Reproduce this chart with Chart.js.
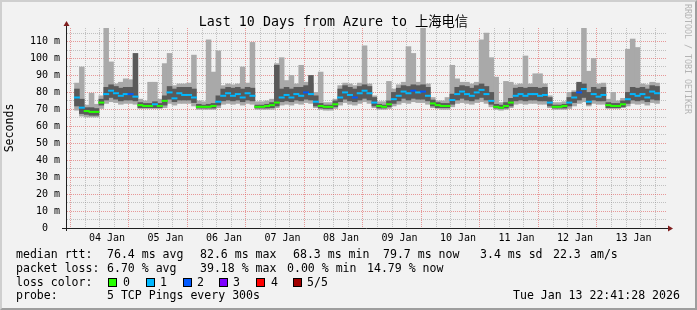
<!DOCTYPE html>
<html>
<head>
<meta charset="utf-8">
<script src="https://cdn.jsdelivr.net/npm/chart.js@4/dist/chart.umd.min.js"></script>
<style>
html,body{margin:0;padding:0;background:#f2f2f2;}
#wrap{position:relative;width:697px;height:310px;overflow:hidden;background:#f2f2f2;}
#c{position:absolute;left:0;top:0;}
#frame{position:absolute;left:0;top:0;width:697px;height:310px;box-sizing:border-box;pointer-events:none;
  border-top:2px solid #cfcfcf;border-left:2px solid #cfcfcf;border-right:2px solid #9e9e9e;border-bottom:2px solid #9e9e9e;}
.t{position:absolute;font-family:"DejaVu Sans Mono",monospace;font-size:11.55px;line-height:14px;white-space:pre;color:#000;}
.box{position:absolute;width:7px;height:7px;border:1px solid #000;}
#credit{position:absolute;left:683px;top:4px;font-family:"DejaVu Sans Mono",monospace;font-size:8.3px;line-height:9px;color:#b4b4b4;writing-mode:vertical-rl;white-space:pre;}
</style>
</head>
<body>
<div id="wrap">
<canvas id="c" width="697" height="310"></canvas>
<div id="legend"></div>
<div id="credit">RRDTOOL / TOBI OETIKER</div>
<div id="frame"></div>
</div>
<script>
// ---------- data (2-hour samples over the last 10 days) ----------
const dayLabels = ['04 Jan','05 Jan','06 Jan','07 Jan','08 Jan','09 Jan','10 Jan','11 Jan','12 Jan','13 Jan'];
const yTickLabels = ['0  ','10 m','20 m','30 m','40 m','50 m','60 m','70 m','80 m','90 m','100 m','110 m'];

const medianRtt = [
 77,71,69,68.5,68.5,74,79,81,79.5,78, 79,79,77.5,72.5,72,72,73,72,75,80,
 76.5,79.5,78.5,78.5,77,71.5,71.5,71.5,72,74.5, 78,79.5,78,79,77,79.5,78,71.5,71.5,72,
 72.5,74,77,78.5,77,79,78,80,79,74.5, 72,71.5,71.5,73,77,80,78.5,77,79.5,81,
 79.5,74,72,71.5,73,76,78,80.5,79.5,81, 80,80.5,78,73.5,72.5,72,72,75.5,79,80.5,
 79,78,80,81.5,79,75,71.5,71,72,74, 78,79,78,79,79,78,78.5,74,71.5,71.5,
 72,74,77,80,82,74.5,79,77.5,78.5,72.5, 72,72,73,76,79,78,79,77,80.5,79.5
];
const lossCount = [
 1,1,0,0,0,0,1,1,1,1, 1,2,1,0,0,0,1,0,0,1,
 1,1,1,1,1,0,0,0,0,1, 1,1,1,1,1,1,1,0,0,0,
 0,0,1,1,1,1,1,2,1,1, 0,0,0,0,1,1,1,2,1,1,
 1,1,0,0,0,1,1,1,1,2, 1,2,1,0,0,0,0,1,1,1,
 1,1,1,1,1,1,0,0,0,0, 1,1,1,1,1,1,1,1,0,0,
 0,1,1,2,1,1,1,1,1,0, 0,0,0,1,1,1,1,1,1,1
];
const smokeMin = [
 69.5,66,65.5,65.5,65.5,70.5,73.5,74.5,74,73, 73.5,73.5,73,70.5,70.5,70.5,70.5,70.5,71,73.5,
 72.5,73.5,73.5,73.5,72,70,70,70,70,71, 73,73.5,73,73.5,72.5,73.5,73,70,70,70,
 70,71,72.5,73,72.5,73.5,73,74,73.5,71, 70,69.5,69.5,70.5,72.5,74,73,72.5,73.5,74.5,
 73.5,71,70,70,70.5,72,73,74,73.5,74.5, 74,74,73,71,70.5,70,70,71.5,73.5,74,
 73.5,73,74,74.5,73.5,71.5,70,69.5,70,71, 73,73.5,73,73.5,73.5,73,73,71,70,70,
 70,70.5,72,73.5,74.5,72,73.5,73,73,70.5, 70.5,70.5,71,72,73.5,73,73.5,72.5,74,73.5
];
const smokeMax = [
 85.5,95,72.5,79.5,73,78,118,98,85,86, 88,87.5,84.5,76,75,86,86,76,97,103,
 84,85,85,85.5,102,75,74.5,111,92,104.5, 84,85,84.5,85,95,85.5,109.5,74.5,74.5,75,
 76,97,100.5,87,90,85,96,86,85,80, 92,74,74,76,84,85.5,85,84,85.5,107.5,
 85,78,74.5,74.5,86.5,82,84.5,86,107,103, 86,118,85,77,75,75,77,96,88,86,
 86,85,86,111,115,100.5,89,74,86.5,86, 84.5,85,101.5,85,91,91,85,78,74,74,
 74.5,80,81,85,118,92.5,100,85,85.5,76, 80,75,76.5,105.5,111.5,106.5,85,84.5,86,85.5
];
const coreLow = [
 72,67.5,67,66.5,66.5,72.5,75.5,77,76,75, 75.5,75.5,75,71,71,71,71,71,72.5,76,
 74.5,75.5,75.5,75.5,74,70.8,70.8,70.8,70.8,72.5, 75,75.5,75,75.5,74.5,75.5,75,70.8,70.8,70.8,
 71,72,74.5,75,74.5,75.5,75,76,75.5,72, 70.8,70.5,70.5,71.5,74.5,76,75,74.5,75.5,76.5,
 75.5,72,70.8,70.8,71.5,73.5,75,76.5,75.5,76.5, 76,76,75,72,71,71,71,73,75.5,76.5,
 75.5,75,76,77,75.5,73,70.8,70.5,70.8,72, 75,75.5,75,75.5,75.5,75,75,72,70.8,70.8,
 70.8,72,74,75.5,77,73,75.5,75,75,71, 71,71,71.5,73.5,75.5,75,75.5,74.5,76,75.5
];
const coreHigh = [
 82,76,71,71,70.5,76,83,84.5,83.5,82.5, 83,83,103,74,73.5,73.5,74.5,73.5,78,83.5,
 82,83,83,83,82,73,72.5,73,73.5,78, 82,83,82.5,83,82,83,82.5,72.5,72.5,73,
 74,96,82,83,82,83,83,84,90,78, 73.5,72.5,72.5,75,82,84,83,82,83.5,84.5,
 83.5,77,73,72.5,75,80,82.5,84,83.5,84.5, 84,84.5,83,75.5,74,73.5,73.5,79,83,84,
 83.5,82.5,84,85,83.5,80,73,72.5,74,76.5, 82.5,83,82.5,83,83,82.5,83,77,72.5,72.5,
 73,77,80,86,85,80,83,82,83,74, 73.5,73.5,75,80,83,82.5,83,82,84,83.5
];
const lossColors = ['#26ff00','#00b8ff','#0059ff','#7e00ff','#ff0000','#a00000'];
const lossLabels = ['0','1','2','3','4','5/5'];

const SAMPLE_HOURS = 2;
const FIRST_MIDNIGHT = 1.309; // hours from graph start (03 Jan 22:41) to 04 Jan 00:00
const SPAN_HOURS = 240;

// ---------- build ----------
const FONT = '"DejaVu Sans Mono", "Noto Sans CJK SC", monospace';
const tAt = i => i * SAMPLE_HOURS + SAMPLE_HOURS / 2;
const lightBand = smokeMin.map((lo, i) => ({x: tAt(i), y: [lo, smokeMax[i]]}));
const darkBand = coreLow.map((lo, i) => ({x: tAt(i), y: [lo, coreHigh[i]]}));
const medianPts = medianRtt.map((v, i) => ({x: tAt(i), y: v}));

const xTicks = [];
for (let t = FIRST_MIDNIGHT; t < SPAN_HOURS; t += 6) xTicks.push({value: t});

const MAJOR = 'rgba(222,79,79,0.55)';
const MINOR = 'rgba(143,143,143,0.5)';

const axesPlugin = {
  id: 'axes',
  afterDatasetsDraw(chart) {
    const {ctx, chartArea: a} = chart;
    ctx.save();
    ctx.lineWidth = 1;
    ctx.strokeStyle = '#1f1f1f';
    ctx.beginPath();
    ctx.moveTo(a.left - 5, a.bottom + 0.5);
    ctx.lineTo(a.right + 4, a.bottom + 0.5);
    ctx.moveTo(a.left - 0.5, a.bottom + 3);
    ctx.lineTo(a.left - 0.5, a.top - 4);
    ctx.stroke();
    ctx.fillStyle = '#801f1f';
    ctx.beginPath();
    ctx.moveTo(a.left - 3.5, a.top - 2);
    ctx.lineTo(a.left + 2.5, a.top - 2);
    ctx.lineTo(a.left - 0.5, a.top - 7);
    ctx.closePath();
    ctx.fill();
    ctx.beginPath();
    ctx.moveTo(a.right + 1, a.bottom - 2.5);
    ctx.lineTo(a.right + 1, a.bottom + 3.5);
    ctx.lineTo(a.right + 6, a.bottom + 0.5);
    ctx.closePath();
    ctx.fill();
    ctx.restore();
  }
};

new Chart(document.getElementById('c'), {
  type: 'bar',
  data: {
    datasets: [
      {type: 'line', data: medianPts, showLine: false, order: 0, pointStyle: 'line', pointRadius: 3,
       pointBorderWidth: 2, pointBorderColor: ctx => lossColors[lossCount[ctx.dataIndex]],
       pointBackgroundColor: ctx => lossColors[lossCount[ctx.dataIndex]]},
      {data: darkBand, backgroundColor: '#5a5a5a', order: 1, grouped: false, barPercentage: 1, categoryPercentage: 1, borderWidth: 0},
      {data: lightBand, backgroundColor: '#a9a9a9', order: 2, grouped: false, barPercentage: 1, categoryPercentage: 1, borderWidth: 0}
    ]
  },
  options: {
    responsive: false, maintainAspectRatio: false, animation: false, devicePixelRatio: 1, events: [],
    layout: {padding: {left: 0, right: 30, top: 0, bottom: 0}},
    plugins: {
      legend: {display: false}, tooltip: {enabled: false},
      title: {display: true, text: 'Last 10 Days from Azure to 上海电信', color: '#000',
              font: {family: FONT, size: 13.3, weight: 'normal', lineHeight: '10px'}, padding: {top: 18, bottom: 0}}
    },
    scales: {
      x: {
        type: 'linear', min: 0, max: SPAN_HOURS,
        afterBuildTicks: s => { s.ticks = xTicks.map(t => ({value: t.value})); },
        afterFit: s => { s.height = 82; },
        ticks: {autoSkip: false, maxRotation: 0, minRotation: 0, color: '#000', padding: 4,
                font: {family: FONT, size: 10},
                callback: (v, i) => (i % 4 === 2 ? dayLabels[(i - 2) / 4] : '')},
        grid: {color: c => (c.index % 4 === 0 ? MAJOR : MINOR), drawTicks: false, lineWidth: 1},
        border: {display: false, dash: [1, 1]}
      },
      y: {
        min: 0, max: 118,
        afterFit: s => { s.width = 67; },
        ticks: {stepSize: 5, includeBounds: false, autoSkip: false, color: '#000', padding: 7,
                font: {family: FONT, size: 10},
                callback: v => (v % 10 === 0 ? yTickLabels[v / 10] : '')},
        grid: {color: c => (c.tick && c.tick.value % 10 === 0 ? MAJOR : MINOR), drawTicks: false, lineWidth: 1},
        border: {display: false, dash: [1, 1]},
        title: {display: true, text: 'Seconds', color: '#000', font: {family: FONT, size: 11.55}, padding: {top: 3, bottom: 0}}
      }
    }
  },
  plugins: [axesPlugin]
});

// ---------- legend text ----------
const legendRows = [
  {top: 247.3, items: [[16,'median rtt:'],[107,'76.4 ms avg'],[200,'82.6 ms max'],[293,'68.3 ms min'],[383,'79.7 ms now'],[480,'3.4 ms sd'],[553,'22.3'],[590,'am/s']]},
  {top: 260.7, items: [[16,'packet loss:'],[107,'6.70 % avg'],[200,'39.18 % max'],[287,'0.00 % min'],[367,'14.79 % now']]},
  {top: 274.7, items: [[16,'loss color:']]},
  {top: 288.3, items: [[16,'probe:'],[107,'5 TCP Pings every 300s'],[513,'Tue Jan 13 22:41:28 2026']]}
];
const swatchX = [108,146,183,219,256,293];
const swatchLabelX = [123,160,197,233,271,307];
const lg = document.getElementById('legend');
legendRows.forEach(r => r.items.forEach(([x, s]) => {
  const d = document.createElement('div'); d.className = 't'; d.style.left = x + 'px'; d.style.top = r.top + 'px'; d.textContent = s; lg.appendChild(d);
}));
lossColors.forEach((col, i) => {
  const b = document.createElement('div'); b.className = 'box'; b.style.left = swatchX[i] + 'px'; b.style.top = '278px'; b.style.background = col; lg.appendChild(b);
  const d = document.createElement('div'); d.className = 't'; d.style.left = swatchLabelX[i] + 'px'; d.style.top = '274.7px'; d.textContent = lossLabels[i]; lg.appendChild(d);
});
</script>
</body>
</html>
